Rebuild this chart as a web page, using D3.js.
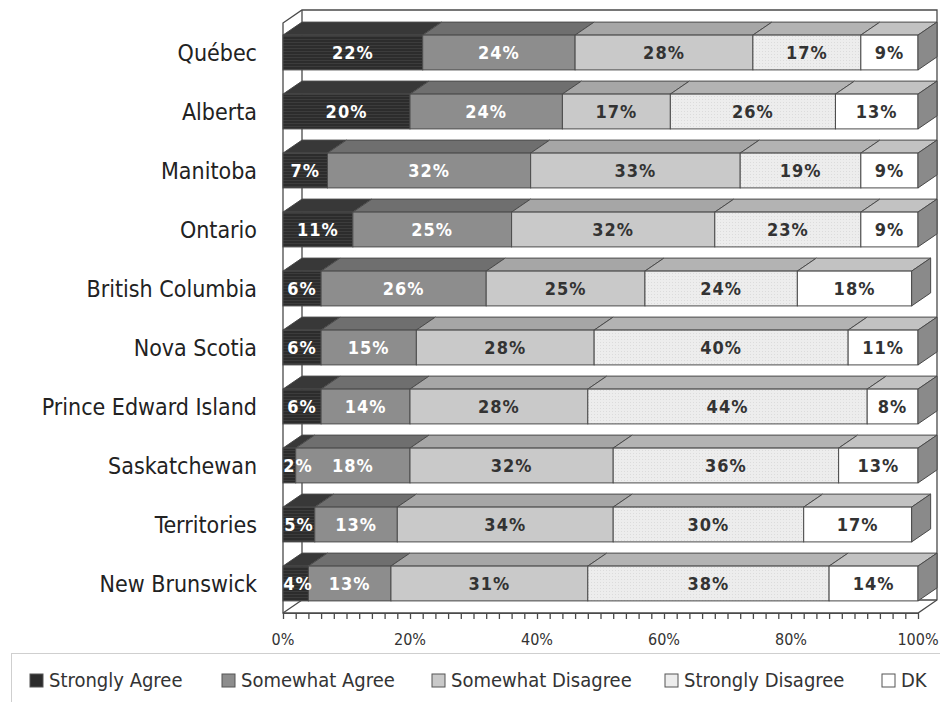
<!DOCTYPE html>
<html>
<head>
<meta charset="utf-8">
<script src="https://cdn.jsdelivr.net/npm/d3@7"></script>
<style>
  body { margin: 0; background: #fff; }
  svg text { font-family: "DejaVu Sans Condensed", "DejaVu Sans", sans-serif; font-stretch: condensed; }
</style>
</head>
<body>
<div id="chart"></div>
<script>
const provinces = ["Québec", "Alberta", "Manitoba", "Ontario", "British Columbia",
  "Nova Scotia", "Prince Edward Island", "Saskatchewan", "Territories", "New Brunswick"];
const seriesNames = ["Strongly Agree", "Somewhat Agree", "Somewhat Disagree", "Strongly Disagree", "DK"];

const stronglyAgree    = [22, 20, 7, 11, 6, 6, 6, 2, 5, 4];
const somewhatAgree    = [24, 24, 32, 25, 26, 15, 14, 18, 13, 13];
const somewhatDisagree = [28, 17, 33, 32, 25, 28, 28, 32, 34, 31];
const stronglyDisagree = [17, 26, 19, 23, 24, 40, 44, 35.5, 30, 38];
const dontKnow         = [9, 13, 9, 9, 18, 11, 8, 12.5, 17, 14];

const tickValues = [0, 20, 40, 60, 80, 100];

const W = 940, H = 702;
const DX = 19, DY = 13;   // 3d depth offset

const frontColor = ["#2c2c2c", "#8d8d8d", "#c9c9c9", "#ededed", "#ffffff"];
const topColor   = ["#383838", "#6f6f6f", "#a6a6a6", "#b3b3b3", "#c2c2c2"];
const textColor  = ["#fff", "#fff", "#333", "#333", "#333"];

const svg = d3.select("#chart").append("svg")
  .attr("width", W).attr("height", H);

// textures
const defs = svg.append("defs");
const p1 = defs.append("pattern").attr("id", "tex0")
  .attr("patternUnits", "userSpaceOnUse").attr("width", 4).attr("height", 3);
p1.append("rect").attr("width", 4).attr("height", 3).attr("fill", frontColor[0]);
p1.append("rect").attr("width", 4).attr("height", 1).attr("fill", "#3c3c3c");
const p3 = defs.append("pattern").attr("id", "tex3")
  .attr("patternUnits", "userSpaceOnUse").attr("width", 3).attr("height", 3);
p3.append("rect").attr("width", 3).attr("height", 3).attr("fill", frontColor[3]);
p3.append("rect").attr("width", 1).attr("height", 1).attr("fill", "#dcdcdc");
const fillFor = i => i === 0 ? "url(#tex0)" : i === 3 ? "url(#tex3)" : frontColor[i];

const x = d3.scaleLinear().domain([0, 100]).range([283, 918]);
const y = d3.scaleBand().domain(provinces).range([23, 613])
  .paddingInner(0.41).paddingOuter(0.205);

const rows = provinces.map((p, i) => {
  const vals = [stronglyAgree[i], somewhatAgree[i], somewhatDisagree[i], stronglyDisagree[i], dontKnow[i]];
  let acc = 0;
  return { name: p, segs: vals.map((v, k) => { const s = { k, v, x0: acc, x1: acc + v }; acc += v; return s; }) };
});

const x0 = x(0), x1 = x(100), yTop = y.range()[0], yBot = y.range()[1];
const line = "#4a4a4a";

// walls
const walls = svg.append("g").attr("fill", "none").attr("stroke", line).attr("stroke-width", 1.3);
walls.append("path").attr("fill", "#fff")
  .attr("d", `M${x0},${yTop}L${x0 + DX},${yTop - DY}L${x1 + DX},${yTop - DY}L${x1 + DX},${yBot - DY}L${x1},${yBot}L${x0},${yBot}Z`);
walls.append("path")
  .attr("d", `M${x0 + DX},${yTop - DY}V${yBot - DY}H${x1 + DX}M${x0 + DX},${yBot - DY}L${x0},${yBot}`);

// bars
const bars = svg.selectAll("g.row").data(rows).join("g").attr("class", "row")
  .attr("stroke", line).attr("stroke-width", 1);

bars.each(function(r) {
  const g = d3.select(this);
  const yt = y(r.name), h = y.bandwidth();
  g.selectAll("path.top").data(r.segs).join("path").attr("class", "top")
    .attr("fill", d => topColor[d.k])
    .attr("d", d => `M${x(d.x0)},${yt}L${x(d.x0) + DX},${yt - DY}L${x(d.x1) + DX},${yt - DY}L${x(d.x1)},${yt}Z`);
  g.selectAll("rect.front").data(r.segs).join("rect").attr("class", "front")
    .attr("x", d => x(d.x0)).attr("y", yt)
    .attr("width", d => x(d.x1) - x(d.x0)).attr("height", h)
    .attr("fill", d => fillFor(d.k));
  const end = x(r.segs[4].x1);
  g.append("path").attr("fill", "#8a8a8a")
    .attr("d", `M${end},${yt}L${end + DX},${yt - DY}L${end + DX},${yt + h - DY}L${end},${yt + h}Z`);
  g.selectAll("text").data(r.segs).join("text")
    .attr("stroke", "none")
    .attr("x", d => Math.max((x(d.x0) + x(d.x1)) / 2, x0 + 15))
    .attr("y", yt + h / 2 + 6.5)
    .attr("text-anchor", "middle")
    .attr("font-size", 18).attr("font-weight", d => d.k < 2 ? 600 : "bold")
    .attr("letter-spacing", 1)
    .attr("fill", d => textColor[d.k])
    .text(d => Math.round(d.v) + "%");
});

// category labels
svg.append("g").selectAll("text").data(provinces).join("text")
  .attr("x", 257).attr("y", d => y(d) + y.bandwidth() / 2 + 8)
  .attr("text-anchor", "end").attr("font-size", 23).attr("fill", "#222")
  .text(d => d);

// axis
const axis = svg.append("g").attr("transform", `translate(0,${yBot})`)
  .call(d3.axisBottom(x).tickValues(d3.range(0, 101, 2)).tickSize(6).tickFormat(""));
axis.select(".domain").attr("stroke", line);
axis.selectAll(".tick line").attr("stroke", line).attr("stroke-width", 1.3);
svg.append("g").selectAll("text").data(tickValues).join("text")
  .attr("x", d => x(d)).attr("y", 645)
  .attr("text-anchor", "middle").attr("font-size", 16).attr("fill", "#333")
  .text(d => d + "%");

// legend
svg.append("rect").attr("x", 11.5).attr("y", 653.5).attr("width", 940).attr("height", 60)
  .attr("fill", "none").attr("stroke", "#cfcfcf");
const legX = [30, 222, 432, 665, 882];
const leg = svg.append("g").selectAll("g").data(seriesNames).join("g")
  .attr("transform", (d, i) => `translate(${legX[i]},674)`);
leg.append("rect").attr("width", 13).attr("height", 13)
  .attr("fill", (d, i) => frontColor[i]).attr("stroke", "#555");
leg.append("text").attr("x", 19).attr("y", 13)
  .attr("font-size", 20).attr("fill", "#333").text(d => d);
</script>
</body>
</html>
